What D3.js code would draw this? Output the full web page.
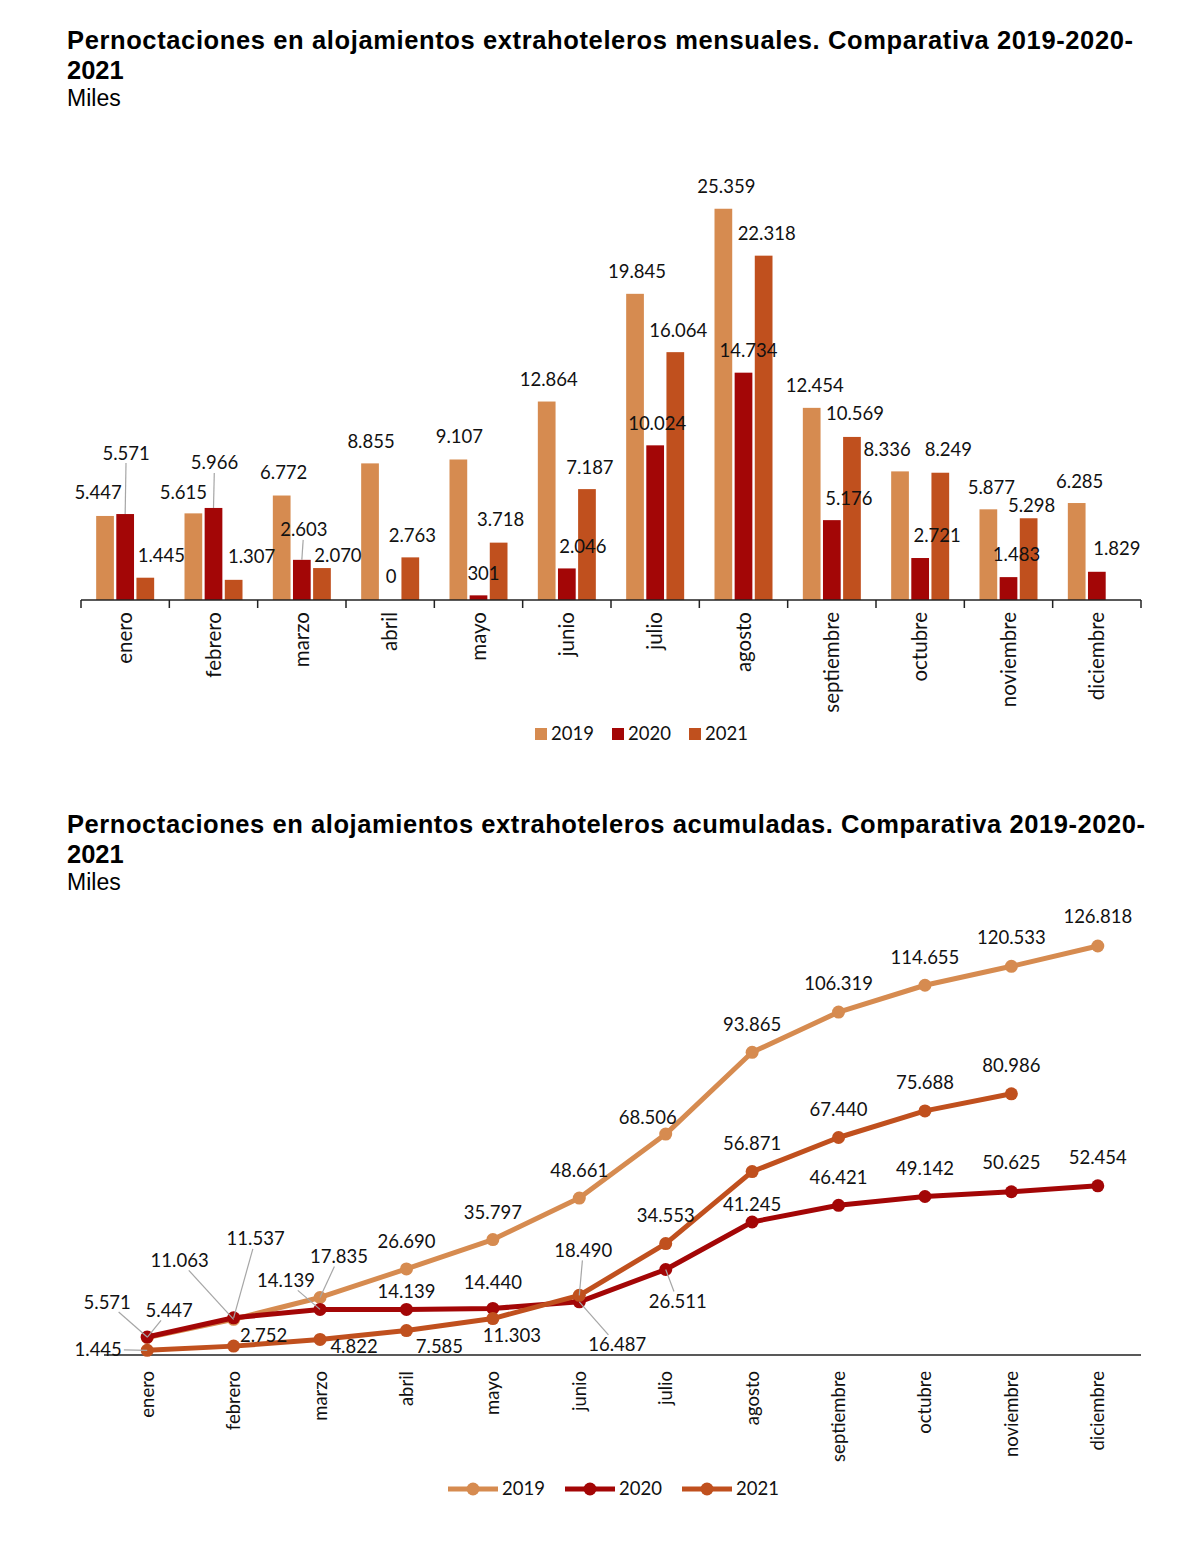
<!DOCTYPE html>
<html>
<head>
<meta charset="utf-8">
<script src="https://cdn.jsdelivr.net/npm/d3@7"></script>
<style>
  body { margin: 0; background: #fff; }
  svg text { font-family: Lato, "Noto Sans", sans-serif; fill: #111; }
  .title { font-family: "Liberation Sans", Arial, sans-serif; font-weight: bold; font-size: 25.5px; fill: #000; }
  .subtitle { font-family: "Liberation Sans", Arial, sans-serif; font-size: 23px; fill: #000; }
</style>
</head>
<body>
<div id="chart"></div>
<script>
// data (miles de pernoctaciones)
const months = ["enero", "febrero", "marzo", "abril", "mayo", "junio", "julio", "agosto",
    "septiembre", "octubre", "noviembre", "diciembre"]
const years = ["2019", "2020", "2021"]

const monthly2019 = [5447, 5615, 6772, 8855, 9107, 12864, 19845, 25359, 12454, 8336, 5877, 6285]
const monthly2020 = [5571, 5966, 2603, 0, 301, 2046, 10024, 14734, 5176, 2721, 1483, 1829]
const monthly2021 = [1445, 1307, 2070, 2763, 3718, 7187, 16064, 22318, 10569, 8249, 5298, null]

const cumul2019 = [5447, 11063, 17835, 26690, 35797, 48661, 68506, 93865, 106319, 114655, 120533, 126818]
const cumul2020 = [5571, 11537, 14139, 14139, 14440, 16487, 26511, 41245, 46421, 49142, 50625, 52454]
const cumul2021 = [1445, 2752, 4822, 7585, 11303, 18490, 34553, 56871, 67440, 75688, 80986, null]

const colors = {"2019": "#D68B50", "2020": "#A30606", "2021": "#C0501E"}

// label nudges [dx, dy, leader] relative to the top of each mark (Excel hand placement)
const barNudge = {
    "2019": [[-7,-23],[-10,-21],[2,-23],[1,-22],[1,-23],[2,-22],[2,-22],[3,-22],[3,-22],[-13,-22],[3,-22],[3,-22]],
    "2020": [[1,-61,1],[1,-45,1],[2,-30,1],[1,-23],[5,-22],[16,-22],[2,-22],[5,-22],[17,-22],[17,-22],[8,-23],[20,-23]],
    "2021": [[16,-22],[18,-23],[16,-13],[2,-22],[2,-23],[3,-22],[3,-22],[3,-22],[3,-23],[8,-23],[3,-13],null]
}
const lineNudge = {
    "2019": [[22,-27,1],[-54,-59,1],[19,-41,1],[0,-27],[0,-27],[0,-28],[-18,-17],[0,-28],[0,-29],[0,-28],[0,-29],[0,-29]],
    "2020": [[-40,-35,1],[22,-79,1],[-34,-29,1],[0,-18],[0,-26],[38,43,1],[12,32,1],[0,-17],[0,-28],[0,-28],[0,-29],[0,-28]],
    "2021": [[-49,-1,1],[30,-11],[34,7],[33,16],[19,17],[4,-45,1],[0,-28],[0,-28],[0,-28],[0,-28],[0,-28],null]
}

const monthlyData = {"2019": monthly2019, "2020": monthly2020, "2021": monthly2021}
const cumulData = {"2019": cumul2019, "2020": cumul2020, "2021": cumul2021}

const fmt = d3.formatLocale({decimal: ",", thousands: ".", grouping: [3], currency: ["", "€"]}).format(",d")

const width = 1200, height = 1553

const svg = d3.select("#chart")
    .append("svg")
    .attr("width", width)
    .attr("height", height)

svg.append("rect").attr("width", width).attr("height", height).attr("fill", "#fff")

function titleBlock(y, text1, len) {
    const t = svg.append("text").attr("class", "title").attr("x", 67).attr("y", y)
    t.append("tspan").attr("x", 67).attr("textLength", len).attr("lengthAdjust", "spacing").text(text1)
    t.append("tspan").attr("x", 67).attr("dy", 30).text("2021")
    svg.append("text").attr("class", "subtitle").attr("x", 67).attr("y", y + 57).text("Miles")
}

titleBlock(49, "Pernoctaciones en alojamientos extrahoteleros mensuales. Comparativa 2019-2020-", 1066)
titleBlock(833, "Pernoctaciones en alojamientos extrahoteleros acumuladas. Comparativa 2019-2020-", 1078)

// leader line from label box edge to the mark
function leader(g, lx, ly, w, px, py) {
    const hw = w / 2 + 2, hh = 10
    const dx = px - lx, dy = py - ly
    const t = Math.min(dx ? hw / Math.abs(dx) : Infinity, dy ? hh / Math.abs(dy) : Infinity)
    if (t >= 1) return
    g.append("line")
        .attr("x1", lx + dx * t).attr("y1", ly + dy * t)
        .attr("x2", px).attr("y2", py)
        .attr("stroke", "#a6a6a6")
        .attr("stroke-width", 1.2)
}

function placeLabel(g, text, px, py, nudge) {
    const lx = px + nudge[0], ly = py + nudge[1]
    const t = g.append("text")
        .attr("x", lx).attr("y", ly)
        .attr("dy", "0.35em")
        .attr("text-anchor", "middle")
        .attr("font-size", 18.5)
        .text(text)
    if (nudge[2]) leader(g, lx, ly, t.node().getComputedTextLength(), px, py)
}

// ---------- bar chart ----------
const base1 = 600
const x0 = d3.scaleBand().domain(months).range([81, 1141])
const x1 = d3.scaleBand().domain(years).range([-29, 29]).paddingInner(0.12)
const y1 = d3.scaleLinear().domain([0, 28000]).range([base1, 168])

const bars = svg.append("g")
years.forEach(yr => {
    bars.selectAll(null)
        .data(months.map((m, i) => ({m, i, v: monthlyData[yr][i]})).filter(d => d.v !== null))
        .join("rect")
        .attr("x", d => x0(d.m) + x0.bandwidth() / 2 + x1(yr))
        .attr("y", d => y1(d.v))
        .attr("width", x1.bandwidth())
        .attr("height", d => base1 - y1(d.v))
        .attr("fill", colors[yr])
})

const axis1 = svg.append("g").attr("transform", `translate(0, ${base1})`)
axis1.append("line")
    .attr("x1", x0.range()[0]).attr("x2", x0.range()[1])
    .attr("stroke", "#222").attr("stroke-width", 1.5)
axis1.selectAll(".tick-b")
    .data(months.map(m => x0(m)).concat([x0.range()[1]]))
    .join("line")
    .attr("x1", d => d).attr("x2", d => d)
    .attr("y1", 0).attr("y2", 8)
    .attr("stroke", "#222").attr("stroke-width", 1.5)
axis1.selectAll(".mlabel")
    .data(months)
    .join("text")
    .attr("transform", d => `translate(${x0(d) + x0.bandwidth() / 2}, 12) rotate(-90)`)
    .attr("text-anchor", "end")
    .attr("dy", "0.35em")
    .attr("font-size", 20.5)
    .text(d => d)

const barLabels = svg.append("g")
years.forEach(yr => {
    monthlyData[yr].forEach((v, i) => {
        if (v === null) return
        const cx = x0(months[i]) + x0.bandwidth() / 2 + x1(yr) + x1.bandwidth() / 2
        placeLabel(barLabels, fmt(v), cx, y1(v), barNudge[yr][i])
    })
})

// bar legend
const leg1 = svg.append("g").attr("transform", "translate(535, 734)")
years.forEach((yr, i) => {
    const g = leg1.append("g").attr("transform", `translate(${i * 77}, 0)`)
    g.append("rect").attr("x", 0).attr("y", -6).attr("width", 12).attr("height", 12).attr("fill", colors[yr])
    g.append("text").attr("x", 16).attr("dy", "0.35em").attr("font-size", 18.5).text(yr)
})

// ---------- line chart ----------
const base2 = 1355
const xp = d3.scalePoint().domain(months).range([104, 1141]).padding(0.5)
const y2 = d3.scaleLinear().domain([0, 140000]).range([base2, 903.5])

const axis2 = svg.append("g")
    .attr("transform", `translate(0, ${base2})`)
    .call(d3.axisBottom(xp).tickSize(0).tickFormat(""))
axis2.select(".domain").attr("stroke", "#222").attr("stroke-width", 1.5)
    .attr("d", `M${xp.range()[0]},0H${xp.range()[1]}`)
axis2.selectAll(".mlabel")
    .data(months)
    .join("text")
    .attr("transform", d => `translate(${xp(d)}, 16) rotate(-90)`)
    .attr("text-anchor", "end")
    .attr("dy", "0.35em")
    .attr("font-size", 18.5)
    .text(d => d)

const line = d3.line()
    .defined(d => d.v !== null)
    .x(d => xp(d.m))
    .y(d => y2(d.v))

const lines = svg.append("g")
years.forEach(yr => {
    const pts = months.map((m, i) => ({m, v: cumulData[yr][i]}))
    lines.append("path")
        .datum(pts)
        .attr("fill", "none")
        .attr("stroke", colors[yr])
        .attr("stroke-width", 5)
        .attr("stroke-linejoin", "round")
        .attr("d", line)
    lines.selectAll(null)
        .data(pts.filter(d => d.v !== null))
        .join("circle")
        .attr("cx", d => xp(d.m))
        .attr("cy", d => y2(d.v))
        .attr("r", 6.5)
        .attr("fill", colors[yr])
})

const lineLabels = svg.append("g")
years.forEach(yr => {
    cumulData[yr].forEach((v, i) => {
        if (v === null) return
        placeLabel(lineLabels, fmt(v), xp(months[i]), y2(v), lineNudge[yr][i])
    })
})

// line legend
const leg2 = svg.append("g").attr("transform", "translate(448, 1489)")
years.forEach((yr, i) => {
    const g = leg2.append("g").attr("transform", `translate(${i * 117}, 0)`)
    g.append("line").attr("x1", 0).attr("x2", 50).attr("stroke", colors[yr]).attr("stroke-width", 5)
    g.append("circle").attr("cx", 25).attr("r", 6.5).attr("fill", colors[yr])
    g.append("text").attr("x", 54).attr("dy", "0.35em").attr("font-size", 18.5).text(yr)
})
</script>
</body>
</html>
